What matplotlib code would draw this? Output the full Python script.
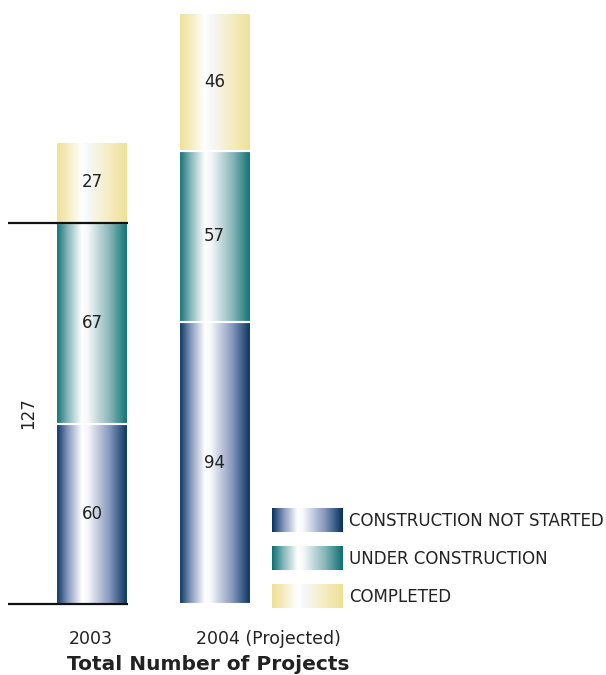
import numpy as np
import matplotlib.pyplot as plt
from matplotlib.colors import LinearSegmentedColormap

plt.rcParams["font.family"] = ["DejaVu Sans"]

years = ["2003", "2004 (Projected)"]
categories = ["CONSTRUCTION NOT STARTED", "UNDER CONSTRUCTION", "COMPLETED"]
not_started = [60, 94]
under_construction = [67, 57]
completed = [27, 46]
total_2003 = 127

edge_colors = ["#05305e", "#0b6f72", "#efdf95"]
mid_colors = ["#8396bb", "#86b6b8", "#f5ecbf"]


def make_cmap(edge, mid):
    return LinearSegmentedColormap.from_list(
        "g", [(0.0, edge), (0.16, mid), (0.36, "#ffffff"), (0.44, "#f7f8fa"),
              (0.75, mid), (1.0, edge)])


grad = np.linspace(0, 1, 256).reshape(1, -1)

fig = plt.figure(figsize=(6.06, 6.75), dpi=100)
ax = fig.add_axes([0, 0, 1, 1])
ax.set_xlim(0, 606)
ax.set_ylim(-23.67, 201.33)
ax.axis("off")

x_pos = [92, 214.5]
bar_w = 72
text_color = "#222222"

bottom = np.zeros(2)
for vals, edge, mid in zip([not_started, under_construction, completed], edge_colors, mid_colors):
    bars = ax.bar(x_pos, vals, bar_w, bottom=bottom, facecolor="none", edgecolor="white", linewidth=1.5, zorder=3)
    cmap = make_cmap(edge, mid)
    for rect, v, b in zip(bars, vals, bottom):
        x0 = rect.get_x()
        im = ax.imshow(grad, cmap=cmap, aspect="auto", extent=(x0, x0 + bar_w, b, b + v), zorder=2)
        im.set_clip_path(rect)
        ax.text(x0 + bar_w / 2, b + v / 2, str(v), ha="center", va="center", fontsize=12, color=text_color, zorder=4)
    bottom = bottom + np.array(vals)

ax.set_xlim(0, 606)
ax.set_ylim(-23.67, 201.33)

# bracket for 2003 total
ax.hlines([0, total_2003], 8, 128, colors="#111111", linewidth=1.6, zorder=5)
ax.text(28, total_2003 / 2, str(total_2003), rotation=90, ha="center", va="center", fontsize=12, color=text_color)

# overlay axes in pixel coords for legend and labels
ov = fig.add_axes([0, 0, 1, 1])
ov.set_xlim(0, 606)
ov.set_ylim(675, 0)
ov.axis("off")
ov.patch.set_alpha(0)

for i, (cat, edge, mid) in enumerate(zip(categories, edge_colors, mid_colors)):
    y0 = 508 + i * 38
    ov.imshow(grad, cmap=make_cmap(edge, mid), aspect="auto", extent=(272, 343, y0 + 24, y0))
    ov.text(349, y0 + 13, cat, ha="left", va="center", fontsize=12, color=text_color)
ov.set_xlim(0, 606)
ov.set_ylim(675, 0)

ov.text(91, 639, years[0], ha="center", va="center", fontsize=12.5, color=text_color)
ov.text(268, 639, years[1], ha="center", va="center", fontsize=12.5, color=text_color)
ov.text(208, 664, "Total Number of Projects", ha="center", va="center", fontsize=14.5, fontweight="bold", color=text_color)

fig.savefig("out.png", dpi=100)
